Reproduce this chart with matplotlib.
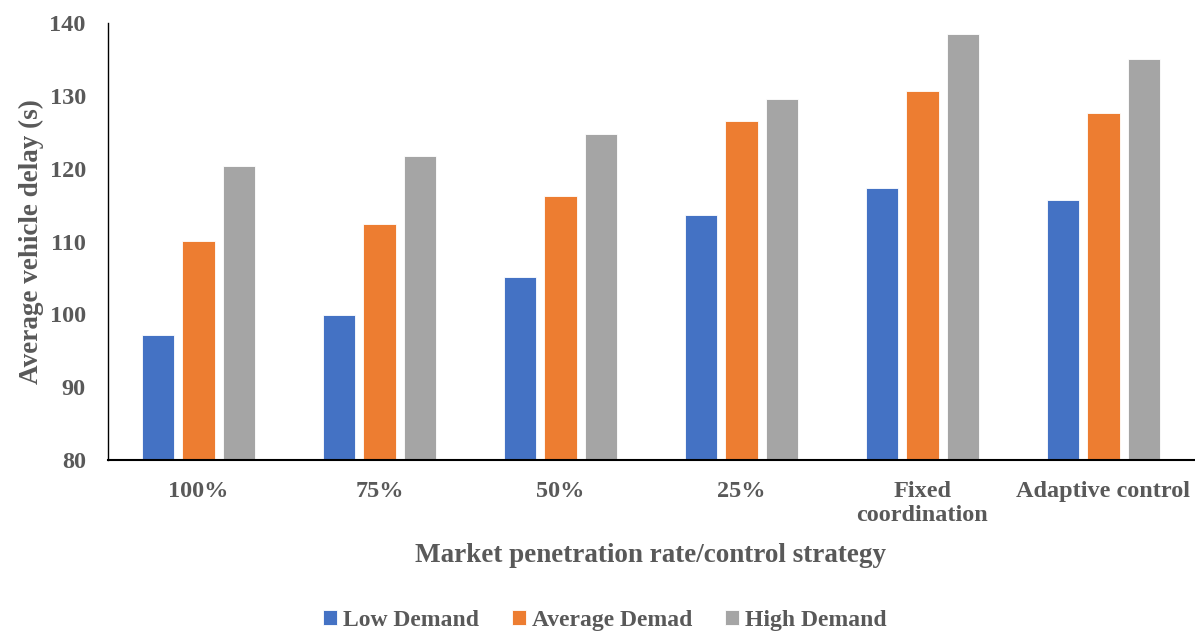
import matplotlib
matplotlib.use("Agg")
import matplotlib.pyplot as plt
import numpy as np

categories = ["100%", "75%", "50%", "25%", "Fixed\ncoordination", "Adaptive control"]
series_names = ["Low Demand", "Average Demad", "High Demand"]
low_demand = [97.2, 99.9, 105.1, 113.6, 117.4, 115.7]
average_demand = [110.1, 112.4, 116.2, 126.5, 130.6, 127.7]
high_demand = [120.4, 121.8, 124.7, 129.5, 138.5, 135.0]
colors = ["#4472C4", "#ED7D31", "#A5A5A5"]
y_ticks = [80, 90, 100, 110, 120, 130, 140]

text_color = "#595959"
plt.rcParams["font.family"] = ["Liberation Serif", "DejaVu Serif"]
plt.rcParams["font.weight"] = "bold"

fig = plt.figure(figsize=(11.95, 6.36), dpi=100)
ax = fig.add_axes([0.0904, 0.2767, 0.9086, 0.6871])

x = np.arange(len(categories))
step = 0.224
width = 0.18
for i, (name, vals, c) in enumerate(zip(series_names, [low_demand, average_demand, high_demand], colors)):
    ax.bar(x + (i - 1) * step, np.array(vals) - 80, width=width, bottom=80,
           color=c, label=name, edgecolor="white", linewidth=0.6)

ax.set_xlim(-0.5, len(categories) - 0.5)
ax.set_ylim(80, 140)
ax.set_yticks(y_ticks)
ax.set_xticks(x)
ax.set_xticklabels(categories, linespacing=1.2)
ax.tick_params(axis="both", length=0, labelsize=17.5, colors=text_color)
ax.tick_params(axis="y", pad=16)
ax.tick_params(axis="x", pad=15)
for lbl in ax.get_xticklabels() + ax.get_yticklabels():
    lbl.set_fontweight("bold")

for side in ["top", "right"]:
    ax.spines[side].set_visible(False)
ax.spines["left"].set_color("black")
ax.spines["left"].set_linewidth(1.0)
ax.spines["bottom"].set_color("black")
ax.spines["bottom"].set_linewidth(1.5)

ax.set_ylabel("Average vehicle delay (s)", fontsize=19.5, fontweight="bold",
              color=text_color, labelpad=4)
ax.set_xlabel("Market penetration rate/control strategy", fontsize=19.5,
              fontweight="bold", color=text_color, labelpad=12)

handles, labels = ax.get_legend_handles_labels()
leg = fig.legend(handles, labels, loc="center", bbox_to_anchor=(0.506, 0.024),
                 ncol=3, frameon=False, fontsize=17, handlelength=0.6,
                 handleheight=0.6, handletextpad=0.25, columnspacing=1.4)
for t in leg.get_texts():
    t.set_color(text_color)
    t.set_fontweight("bold")

fig.savefig("out.png", dpi=100)
